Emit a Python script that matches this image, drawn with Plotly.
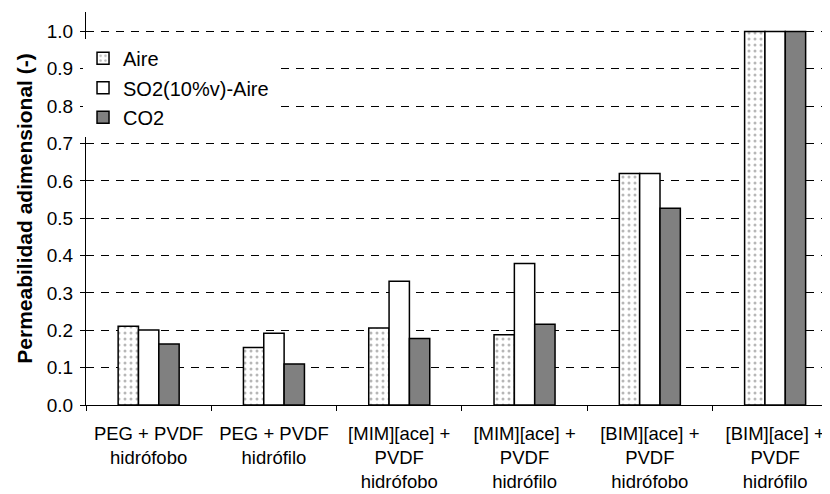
import plotly.graph_objects as go

categories = [
    "PEG + PVDF<br>hidrófobo",
    "PEG + PVDF<br>hidrófilo",
    "[MIM][ace] +<br>PVDF<br>hidrófobo",
    "[MIM][ace] +<br>PVDF<br>hidrófilo",
    "[BIM][ace] +<br>PVDF<br>hidrófobo",
    "[BIM][ace] +<br>PVDF<br>hidrófilo",
]
aire = [0.211, 0.154, 0.206, 0.188, 0.620, 1.0]
so2_aire = [0.201, 0.192, 0.331, 0.379, 0.620, 1.0]
co2 = [0.163, 0.110, 0.178, 0.216, 0.527, 1.0]
y_ticks = [0.0, 0.1, 0.2, 0.3, 0.4, 0.5, 0.6, 0.7, 0.8, 0.9, 1.0]

FONT = "Liberation Sans, Arial, sans-serif"
line = dict(color="black", width=1.5)

fig = go.Figure()
fig.add_trace(go.Bar(
    name="Aire", x=categories, y=aire,
    marker=dict(color="white", line=line,
                pattern=dict(shape=".", fgcolor="#707070", bgcolor="white",
                             size=6, solidity=0.2)),
    legendgroup="a",
))
fig.add_trace(go.Bar(
    name="SO2(10%v)-Aire", x=categories, y=so2_aire,
    marker=dict(color="white", line=line),
    legendgroup="b",
))
fig.add_trace(go.Bar(
    name="CO2", x=categories, y=co2,
    marker=dict(color="#808080", line=line),
    legendgroup="c",
))

# page body has an 8px default margin: compensate so the plot lands where the reference has it
fig.update_layout(
    width=822, height=486,
    margin=dict(l=78, r=0, t=4, b=89),
    paper_bgcolor="white", plot_bgcolor="white",
    font=dict(family=FONT, size=20, color="black"),
    barmode="group", bargap=0.513, bargroupgap=0,
    showlegend=True,
    legend=dict(x=-0.004, y=0.932, xanchor="left", yanchor="top",
                bgcolor="white", font=dict(size=20),
                traceorder="grouped", tracegroupgap=0.5),
    xaxis=dict(
        range=[-0.5, 5.438], showline=True, linecolor="black", linewidth=1,
        ticks="outside", ticklen=5, tickcolor="black", tickson="boundaries",
        showgrid=False, tickfont=dict(size=18.5), tickangle=0,
        ticklabelstandoff=12, ticklabeloverflow="allow", automargin=False,
    ),
    yaxis=dict(
        range=[0, 1.052], tickvals=y_ticks, tickformat=".1f",
        showline=True, linecolor="black", linewidth=1,
        ticks="outside", ticklen=5, tickcolor="black",
        showgrid=True, gridcolor="black", gridwidth=1, griddash="8px,7px",
        zeroline=False, ticklabelstandoff=3, tickfont=dict(size=19),
        automargin=False,
        title=dict(text="<b>Permeabilidad adimensional (-)</b>",
                   font=dict(size=21), standoff=8),
    ),
)

fig.write_html("out.html")
